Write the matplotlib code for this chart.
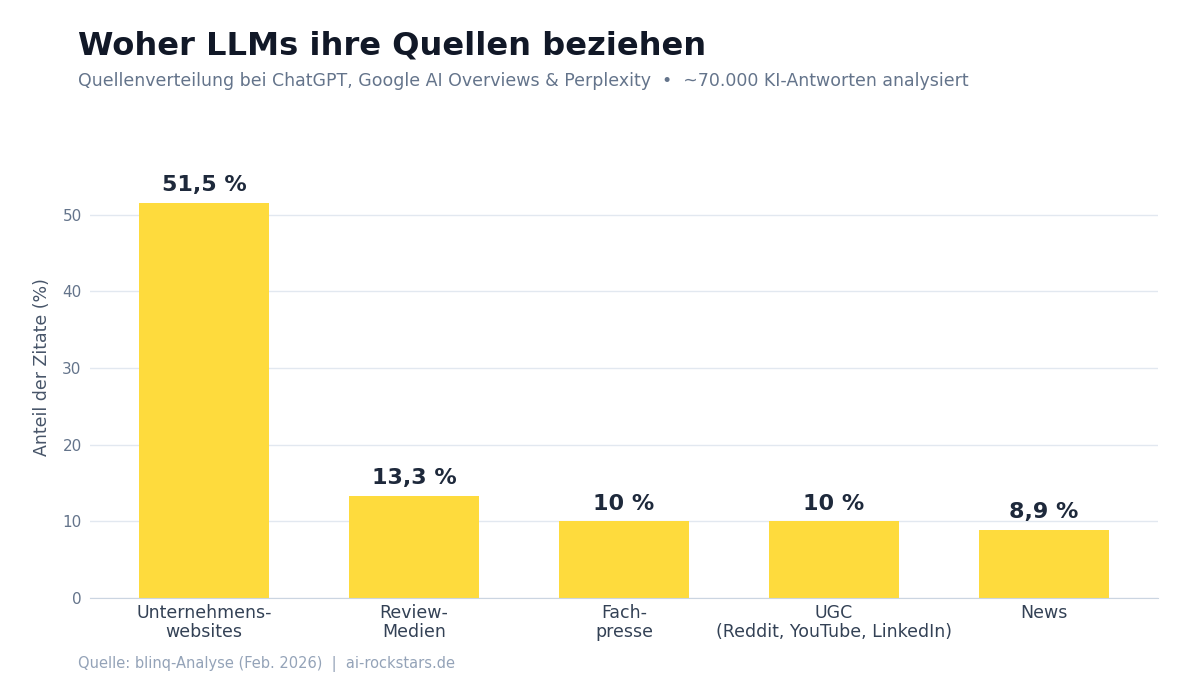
import matplotlib.pyplot as plt

# data
categories = ["Unternehmens-\nwebsites", "Review-\nMedien", "Fach-\npresse",
              "UGC\n(Reddit, YouTube, LinkedIn)", "News"]
values = [51.5, 13.3, 10.0, 10.0, 8.9]
labels = ["51,5 %", "13,3 %", "10 %", "10 %", "8,9 %"]
yticks = [0, 10, 20, 30, 40, 50]

fig = plt.figure(figsize=(12, 6.87), dpi=100)
ax = fig.add_axes([0.075, 0.1296, 0.89, 0.672])

x = range(len(categories))
ax.bar(x, values, width=0.62, color="#FEDB3D", zorder=2)
for xi, v, lab in zip(x, values, labels):
    ax.text(xi, v + 1.0, lab, ha="center", va="bottom", fontsize=16,
            fontweight="bold", color="#1E293B")

ax.set_xlim(-0.543, 4.543)
ax.set_ylim(0, 60.2)
ax.set_yticks(yticks)
ax.set_xticks(list(x))
ax.set_xticklabels(categories, fontsize=12.5, color="#334155", linespacing=1.1)
ax.tick_params(axis="y", labelsize=11, colors="#64748B", length=0, pad=6)
ax.tick_params(axis="x", length=0, pad=4)
ax.grid(axis="y", color="#E2E8F0", linewidth=1, zorder=0)
for s in ["top", "right", "left"]:
    ax.spines[s].set_visible(False)
ax.spines["bottom"].set_color("#CBD5E1")
ax.set_ylabel("Anteil der Zitate (%)", fontsize=12.5, color="#475569", labelpad=8)

fig.text(0.065, 0.920, "Woher LLMs ihre Quellen beziehen", fontsize=23.1,
         fontweight="bold", color="#111827", va="baseline")
fig.text(0.065, 0.875, "Quellenverteilung bei ChatGPT, Google AI Overviews & Perplexity  \u2022  ~70.000 KI-Antworten analysiert",
         fontsize=12.5, color="#64748B", va="baseline")
fig.text(0.065, 0.027, "Quelle: blinq-Analyse (Feb. 2026)  |  ai-rockstars.de",
         fontsize=10.5, color="#94A3B8", va="baseline")

fig.savefig("out.png", dpi=100, facecolor="white")
